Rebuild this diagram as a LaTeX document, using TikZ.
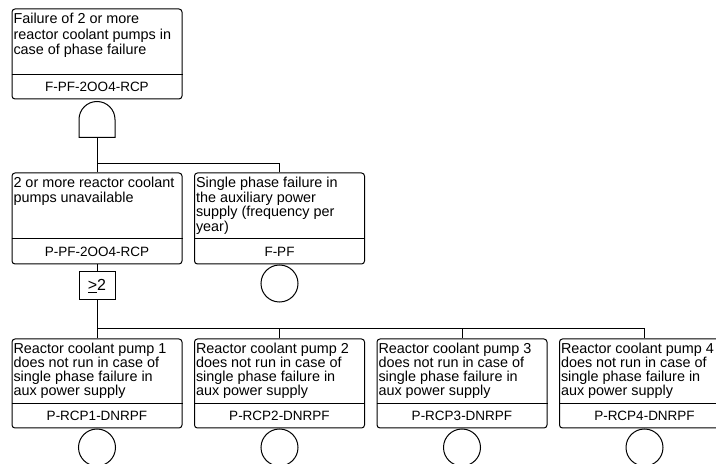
\documentclass[tikz,border=0pt]{standalone}
\usepackage{fontspec}
\setmainfont{Liberation Sans}
\usetikzlibrary{positioning}
\tikzstyle{event} = [rectangle, rounded corners=3pt, minimum width=170pt, draw=black, inner sep=0pt]
\tikzstyle{desc} = [anchor=north west, align=left, inner xsep=1.5pt, inner ysep=4pt, font=\fontsize{14.4}{15.7}\selectfont]
\tikzstyle{ident} = [inner sep=0pt, font=\fontsize{13.5}{16}\selectfont]
\tikzstyle{basic} = [circle, draw=black, minimum size=37pt, inner sep=0pt]
\tikzstyle{votebox} = [rectangle, draw=black, minimum width=36pt, minimum height=28pt, inner sep=0pt, font=\fontsize{16}{18}\selectfont]

\begin{document}
\begin{tikzpicture}[x=1pt, y=1pt, line width=1pt, node distance=11.5pt]
    \useasboundingbox (0,0) rectangle (716,464);
    \clip (0,0) rectangle (716,464);
    \fill [white] (0,0) rectangle (716,464);

    % top event
    \node (top) [event, minimum height=90pt] at (97,410) {};
    \node (topD) [desc] at (top.north west) {Failure of 2 or more\\reactor coolant pumps in\\case of phase failure};
    \node (topN) [ident] at ([yshift=12.5pt]top.south) {F-PF-2OO4-RCP};
    \draw ([yshift=25pt]top.south west) -- ([yshift=25pt]top.south east);

    % and gate
    \coordinate (gand) at ([yshift=-2pt]top.south);
    \draw ([xshift=-18pt,yshift=-36pt]gand) -- ++(0,18) arc (180:0:18) -- ++(0,-18) -- cycle;

    % second level
    \node (pumps) [event, minimum height=91pt, below=73pt of top] {};
    \node (pumpsD) [desc, font=\fontsize{14.4}{14.7}\selectfont] at (pumps.north west) {2 or more reactor coolant\\pumps unavailable};
    \node (pumpsN) [ident] at ([yshift=13pt]pumps.south) {P-PF-2OO4-RCP};
    \draw ([yshift=26pt]pumps.south west) -- ([yshift=26pt]pumps.south east);

    \node (phase) [event, minimum height=91pt, right=of pumps] {};
    \node (phaseD) [desc, font=\fontsize{14.4}{14.7}\selectfont] at (phase.north west) {Single phase failure in\\the auxiliary power\\supply (frequency per\\year)};
    \node (phaseN) [ident] at ([yshift=13pt]phase.south) {F-PF};
    \draw ([yshift=26pt]phase.south west) -- ([yshift=26pt]phase.south east);
    \node (phaseC) [basic, below=0pt of phase] {};

    % voting gate
    \node (vote) [votebox, below=7pt of pumps] {\underline{>}2};

    % basic events
    \node (rcp1) [event, minimum height=89pt, below=74pt of pumps] {};
    \node (rcp1D) [desc, font=\fontsize{14.4}{13.9}\selectfont] at (rcp1.north west) {Reactor coolant pump 1\\does not run in case of\\single phase failure in\\aux power supply};
    \node (rcp1N) [ident] at ([yshift=12.5pt]rcp1.south) {P-RCP1-DNRPF};
    \draw ([yshift=25pt]rcp1.south west) -- ([yshift=25pt]rcp1.south east);
    \node (rcp1C) [basic, below=0pt of rcp1] {};

    \node (rcp2) [event, minimum height=89pt, right=of rcp1] {};
    \node (rcp2D) [desc, font=\fontsize{14.4}{13.9}\selectfont] at (rcp2.north west) {Reactor coolant pump 2\\does not run in case of\\single phase failure in\\aux power supply};
    \node (rcp2N) [ident] at ([yshift=12.5pt]rcp2.south) {P-RCP2-DNRPF};
    \draw ([yshift=25pt]rcp2.south west) -- ([yshift=25pt]rcp2.south east);
    \node (rcp2C) [basic, below=0pt of rcp2] {};

    \node (rcp3) [event, minimum height=89pt, right=of rcp2] {};
    \node (rcp3D) [desc, font=\fontsize{14.4}{13.9}\selectfont] at (rcp3.north west) {Reactor coolant pump 3\\does not run in case of\\single phase failure in\\aux power supply};
    \node (rcp3N) [ident] at ([yshift=12.5pt]rcp3.south) {P-RCP3-DNRPF};
    \draw ([yshift=25pt]rcp3.south west) -- ([yshift=25pt]rcp3.south east);
    \node (rcp3C) [basic, below=0pt of rcp3] {};

    \node (rcp4) [event, minimum height=89pt, right=of rcp3] {};
    \node (rcp4D) [desc, font=\fontsize{14.4}{13.9}\selectfont] at (rcp4.north west) {Reactor coolant pump 4\\does not run in case of\\single phase failure in\\aux power supply};
    \node (rcp4N) [ident] at ([yshift=12.5pt]rcp4.south) {P-RCP4-DNRPF};
    \draw ([yshift=25pt]rcp4.south west) -- ([yshift=25pt]rcp4.south east);
    \node (rcp4C) [basic, below=0pt of rcp4] {};

    % connectors
    \draw ([yshift=-36pt]gand) -- (pumps);
    \draw ([yshift=-36pt]gand) |- ([yshift=9pt]phase.north) -- (phase);
    \draw (pumps) -- (vote);
    \draw (vote) -- (rcp1);
    \draw (vote.south) |- ([yshift=10pt]rcp2.north) -- (rcp2);
    \draw (vote.south) |- ([yshift=10pt]rcp3.north) -- (rcp3);
    \draw (vote.south) |- ([yshift=10pt]rcp4.north) -- (rcp4);
\end{tikzpicture}
\end{document}
